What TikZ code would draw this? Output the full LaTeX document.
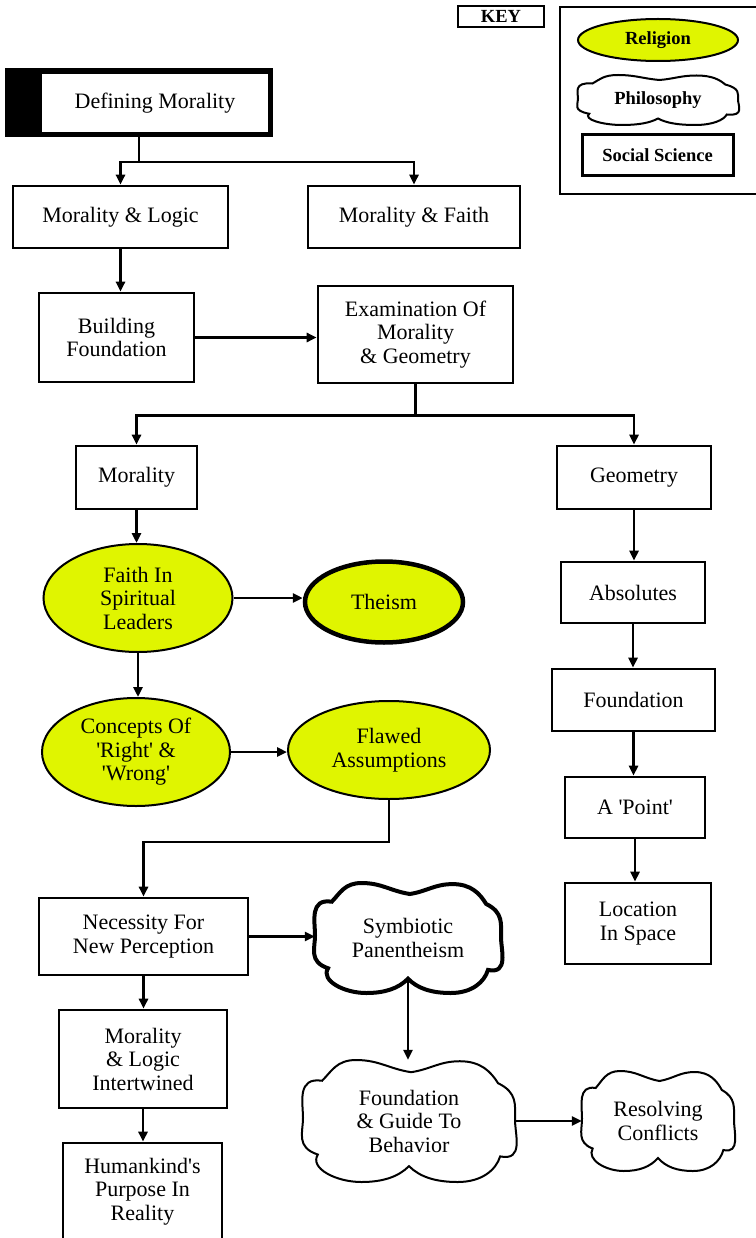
\documentclass[tikz,border=0pt]{standalone}
\usepackage{fontspec}
\setmainfont{Liberation Serif}
\usetikzlibrary{shapes.geometric,arrows.meta}
\definecolor{relyellow}{RGB}{224,245,0}
\newcommand\mfont{\fontsize{22}{23.5}\selectfont}
\newcommand\kfont{\fontsize{18.5}{20}\selectfont\bfseries}
\newcommand\sq{\textquotesingle}
% x, y (px from top), half width, half height, line width
\newcommand\drawcloud[5]{\draw[line width=#5pt, fill=white, shift={(#1,-#2)}, xscale=#3, yscale=#4]
  (0.02,0.8) to[out=165,in=0] (-0.5,1) to[out=180,in=60] (-0.82,0.66)
  to[out=165,in=90] (-1,0.05) to[out=-90,in=150] (-0.86,-0.55)
  to[out=-110,in=180] (-0.45,-1) to[out=0,in=-120] (0,-0.74)
  to[out=-60,in=180] (0.46,-1) to[out=0,in=-100] (0.86,-0.58)
  to[out=-20,in=-90] (1,0.02) to[out=90,in=-40] (0.84,0.62)
  to[out=110,in=0] (0.48,0.98) to[out=180,in=15] (0.02,0.8) -- cycle;}
\tikzset{
  box/.style={draw, line width=2.6pt, fill=white, inner sep=0pt, align=center, font=\mfont},
  ell/.style={ellipse, draw, line width=2pt, fill=relyellow, inner sep=0pt, align=center, font=\mfont},
  txt/.style={inner sep=0pt, align=center, font=\mfont},
  arr/.style={line width=2.5pt, -{Triangle[length=10pt,width=9pt]}},
  ln/.style={line width=2.5pt},
}
\begin{document}
\begin{tikzpicture}[x=1pt,y=1pt]
\useasboundingbox (0,0) rectangle (755,-1238);
% key
\node[draw, line width=1.5pt, inner sep=0pt, minimum width=86, minimum height=21, font=\kfont] (key) at (501,-16.5) {KEY};
\draw[line width=1.5pt] (560,-7) rectangle (757,-194);
\node[ell, line width=2pt, minimum width=160, minimum height=42, font=\kfont] (rel) at (658,-40) {Religion};
\drawcloud{658}{100}{80}{25}{2}
\node[txt, minimum width=160, minimum height=50, font=\kfont] (phil) at (658,-100) {Philosophy};
\node[draw, line width=3pt, inner sep=0pt, minimum width=151, minimum height=41, font=\kfont] (ss) at (657.5,-155.5) {Social Science};
% title
\node[fill=black, inner sep=0pt, outer sep=0pt, minimum width=268, minimum height=69] (def) at (139,-102.5) {};
\fill[white] (42,-74) rectangle (268,-132);
\node[txt] (deft) at (155,-103) {Defining Morality};
% boxes
\node[box, minimum width=215, minimum height=62] (ml) at (120.5,-217) {Morality \& Logic};
\node[box, minimum width=212, minimum height=62] (mf) at (414,-217) {Morality \& Faith};
\node[box, minimum width=155, minimum height=89] (bf) at (116.5,-337.5) {Building\\Foundation};
\node[box, minimum width=195, minimum height=97] (ex) at (415.5,-334.5) {Examination Of\\Morality\\\& Geometry};
\node[box, minimum width=121, minimum height=63] (mor) at (136.5,-477.5) {Morality};
\node[box, minimum width=154, minimum height=63] (geo) at (634,-477.5) {Geometry};
\node[box, minimum width=144, minimum height=61] (abs) at (633,-592.5) {Absolutes};
\node[box, minimum width=163, minimum height=62] (fnd) at (633.5,-700) {Foundation};
\node[box, minimum width=140, minimum height=61] (pt) at (635,-807.5) {A \sq Point\sq};
\node[box, minimum width=146, minimum height=81] (loc) at (638,-923.5) {Location\\In Space};
\node[box, minimum width=209, minimum height=77] (nec) at (143.5,-936.5) {Necessity For\\New Perception};
\node[box, minimum width=168, minimum height=98] (mli) at (143,-1059) {Morality\\\& Logic\\Intertwined};
\node[box, minimum width=159, minimum height=97] (hum) at (142.5,-1191.5) {Humankind\sq s\\Purpose In\\Reality};
% ellipses
\node[ell, minimum width=189, minimum height=108] (faith) at (138,-598) {Faith In\\Spiritual\\Leaders};
\node[ell, line width=4.5pt, minimum width=158, minimum height=81] (theism) at (384,-602) {Theism};
\node[ell, minimum width=188, minimum height=108] (conc) at (136,-752) {Concepts Of\\\sq Right\sq\ \&\\\sq Wrong\sq};
\node[ell, minimum width=202, minimum height=98] (flaw) at (389,-750) {Flawed\\Assumptions};
% clouds
\drawcloud{408}{938}{93}{55}{4}
\node[txt, minimum width=186, minimum height=110] (sym) at (408,-938) {Symbiotic\\Panentheism};
\drawcloud{409}{1121}{106}{61}{2}
\node[txt, minimum width=212, minimum height=122] (fg) at (409,-1121) {Foundation\\\& Guide To\\Behavior};
\drawcloud{658}{1121}{76}{50}{2}
\node[txt, minimum width=152, minimum height=100] (res) at (658,-1121) {Resolving\\Conflicts};
% connectors
\draw[ln] (def.south) -- ++(0,-25) coordinate (j1);
\draw[arr] (j1) -| (ml.north);
\draw[arr] (j1) -| (mf.north);
\draw[arr] (ml.south) -- (ml.south |- bf.north);
\draw[arr] (bf.east) -- (bf.east -| ex.west);
\draw[ln] (ex.south) -- ++(0,-31) coordinate (j2);
\draw[arr] (j2) -| (mor.north);
\draw[arr] (j2) -| (geo.north);
\draw[arr] (mor.south) -- (mor.south |- faith.north);
\draw[arr] (faith.east) -- (theism.west |- faith.east);
\draw[arr] (faith.south) -- (faith.south |- conc.north);
\draw[arr] (conc.east) -- (flaw.west |- conc.east);
\draw[arr] (flaw.south) -- ++(0,-42) -| (nec.north);
\draw[arr] (nec.east) -- (sym.west |- nec.east);
\draw[arr] ([yshift=14pt]sym.south) -- (sym.south |- fg.north);
\draw[arr] (fg.east) -- (res.west |- fg.east);
\draw[arr] (nec.south) -- (nec.south |- mli.north);
\draw[arr] (mli.south) -- (mli.south |- hum.north);
\draw[arr] (geo.south) -- (geo.south |- abs.north);
\draw[arr] (abs.south) -- (abs.south |- fnd.north);
\draw[arr] (fnd.south) -- (fnd.south |- pt.north);
\draw[arr] (pt.south) -- (pt.south |- loc.north);
\end{tikzpicture}
\end{document}
